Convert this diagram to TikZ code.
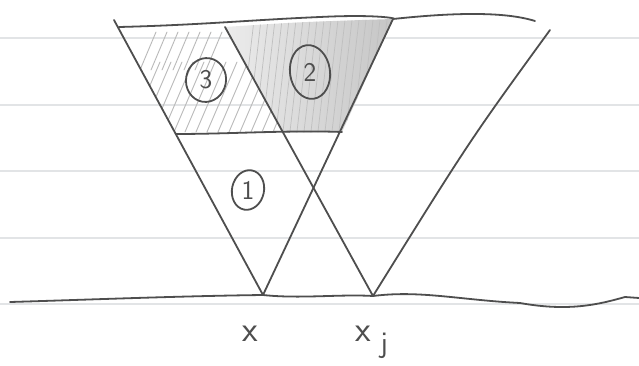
\documentclass[tikz,border=0pt]{standalone}
\definecolor{pencil}{RGB}{78,78,78}
\definecolor{ruled}{RGB}{226,228,230}
\tikzset{
  pen/.style={draw=pencil, line width=1.8pt, line cap=round, line join=round},
  ruleline/.style={draw=ruled, line width=1.2pt},
  hatch/.style={draw=gray!55, line width=0.9pt, line cap=round},
  digit/.style={font=\sffamily\fontsize{27}{27}\selectfont, text=pencil, inner sep=0pt},
  lbl/.style={font=\sffamily\fontsize{36}{36}\selectfont, text=pencil, inner sep=0pt}
}
\begin{document}
\begin{tikzpicture}[x=1pt,y=-1pt]
\useasboundingbox (0,0) rectangle (639,366);
\fill[white] (0,0) rectangle (639,366);
% ruled paper lines
\foreach \yy in {38,105,171,238,304} \draw[ruleline] (0,\yy) -- (639,\yy);
% key points
\coordinate (A1) at (114,20);
\coordinate (B1) at (393,19);
\coordinate (X) at (263,295);
\coordinate (A2) at (225,27);
\coordinate (B2) at (550,30);
\coordinate (XJ) at (373,296);
\coordinate (M1) at (176,134);
\coordinate (M2) at (283,133);
\coordinate (M3) at (342,132);
\coordinate (T1) at (119,27);
% region 2 shading
\shade[left color=gray!15, right color=gray!45] (A2) .. controls (300,22) .. (B1) -- (M3) -- (M2) -- cycle;
\begin{scope}
  \clip (A2) .. controls (300,22) .. (B1) -- (M3) -- (M2) -- cycle;
  \foreach \k in {0,...,22} \draw[draw=gray!50, line width=0.7pt] (240+7*\k,140) -- ++(14,-120);
\end{scope}
% region 3 hatching
\begin{scope}
  \clip (T1) -- (A2) -- (M2) -- (M1) -- cycle;
  \foreach \k in {0,...,13} \draw[hatch] (130+11*\k,132) -- ++(30,-70);
  \foreach \k in {0,...,6} \draw[hatch] (140+11*\k,70) -- ++(16,-38);
\end{scope}
% main lines
\draw[pen] (A1) -- (X);
\draw[pen] (B1) -- (X);
\draw[pen] (A2) -- (XJ);
\draw[pen] (B2) .. controls (470,140) .. (XJ);
\draw[pen] (T1) .. controls (200,25) and (250,20) .. (320,17) .. controls (380,14) and (400,19) .. (B1) .. controls (440,14) and (500,10) .. (535,21);
\draw[pen] (M1) .. controls (230,134) and (290,130) .. (M3);
\draw[pen] (10,302) .. controls (80,300) and (180,296) .. (X) .. controls (300,299) and (340,294) .. (XJ) .. controls (420,290) and (460,300) .. (520,303) .. controls (570,312) and (600,304) .. (625,297) -- (639,298);
% circled numbers
\node[digit] (c3) at (206,80) {3};
\draw[pen, rotate around={-10:(c3)}] (c3) ellipse (20 and 22);
\node[digit] (c2) at (310,72) {2};
\draw[pen, rotate around={8:(c2)}] (c2) ellipse (20 and 27);
\node[digit] (c1) at (248,190) {1};
\draw[pen, rotate around={-12:(c1)}] (c1) ellipse (16 and 20);
% labels
\node[lbl] (lx) at (250,334) {x};
\node[lbl] (lxj) at (363,334) {x};
\node[font=\sffamily\fontsize{30}{30}\selectfont, text=pencil, inner sep=0pt] (lj) at (384,346) {j};
\end{tikzpicture}
\end{document}
